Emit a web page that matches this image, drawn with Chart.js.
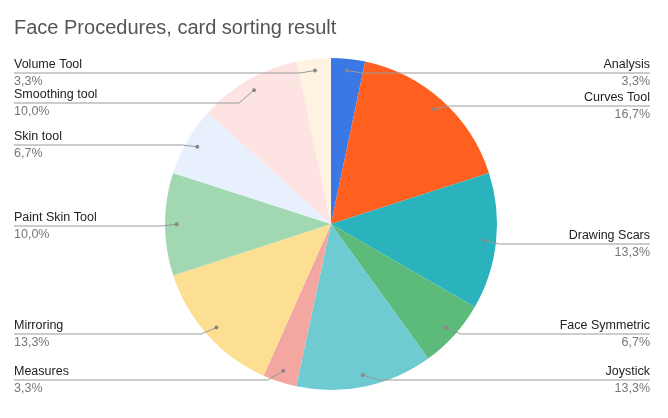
<!DOCTYPE html>
<html>
<head>
<meta charset="utf-8">
<script src="https://cdn.jsdelivr.net/npm/chart.js@4"></script>
<style>
  body { margin: 0; background: #fff; }
  #wrap { width: 668px; height: 418px; }
</style>
</head>
<body>
<div id="wrap"><canvas id="pieChart"></canvas></div>
<script>
const categories = ['Analysis', 'Curves Tool', 'Drawing Scars', 'Face Symmetric', 'Joystick', 'Measures',
    'Mirroring', 'Paint Skin Tool', 'Skin tool', 'Smoothing tool', 'Volume Tool'];
const shares = [3.3, 16.7, 13.3, 6.7, 13.3, 3.3, 13.3, 10.0, 6.7, 10.0, 3.3];
const colors = ['#3a78e6', '#ff5f1f', '#2bb3bd', '#5cba7a', '#6dcbd1', '#f4a7a1',
    '#fddf94', '#a2d8b1', '#e8effd', '#fde4e3', '#fef3e0'];

// label row centres (y of the name line), layout only
const labelY = [65, 98, 236, 326, 372, 372, 326, 218, 137, 95, 65];

const outsideLabels = {
    id: 'outsideLabels',
    afterDraw(chart) {
        const c = chart.ctx;
        const meta = chart.getDatasetMeta(0);
        c.save();
        c.font = '20px "Liberation Sans", Arial, sans-serif';
        c.fillStyle = '#555';
        c.textBaseline = 'middle';
        c.textAlign = 'left';
        c.fillText('Face Procedures, card sorting result', 14, 28);

        meta.data.forEach((arc, i) => {
            const mid = (arc.startAngle + arc.endAngle) / 2;
            const r = arc.outerRadius * 0.93;
            const dx = arc.x + Math.cos(mid) * r;
            const dy = arc.y + Math.sin(mid) * r;
            const right = Math.cos(mid) > 0;
            const y = labelY[i];
            const lineY = y + 8;
            const edge = right ? 650 : 14;
            const bend = right ? dx + 15 : dx - 15;

            c.strokeStyle = '#999';
            c.lineWidth = 1;
            c.beginPath();
            c.moveTo(edge, lineY);
            c.lineTo(bend, lineY);
            c.lineTo(dx, dy);
            c.stroke();
            c.fillStyle = '#888';
            c.beginPath();
            c.arc(dx, dy, 2, 0, Math.PI * 2);
            c.fill();

            c.textAlign = right ? 'right' : 'left';
            c.font = '12.5px "Liberation Sans", Arial, sans-serif';
            c.fillStyle = '#222';
            c.fillText(categories[i], edge, y);
            c.fillStyle = '#777';
            c.fillText(shares[i].toFixed(1).replace('.', ',') + '%', edge, y + 17);
        });
        c.restore();
    }
};

new Chart(document.getElementById('pieChart'), {
    type: 'pie',
    data: {
        labels: categories,
        datasets: [{
            data: shares,
            backgroundColor: colors,
            borderColor: '#fff',
            borderWidth: 0
        }]
    },
    options: {
        responsive: true,
        maintainAspectRatio: false,
        animation: false,
        layout: { padding: { top: 58, bottom: 28, left: 0, right: 6 } },
        plugins: {
            legend: { display: false },
            tooltip: { enabled: false }
        }
    },
    plugins: [outsideLabels]
});
</script>
</body>
</html>
